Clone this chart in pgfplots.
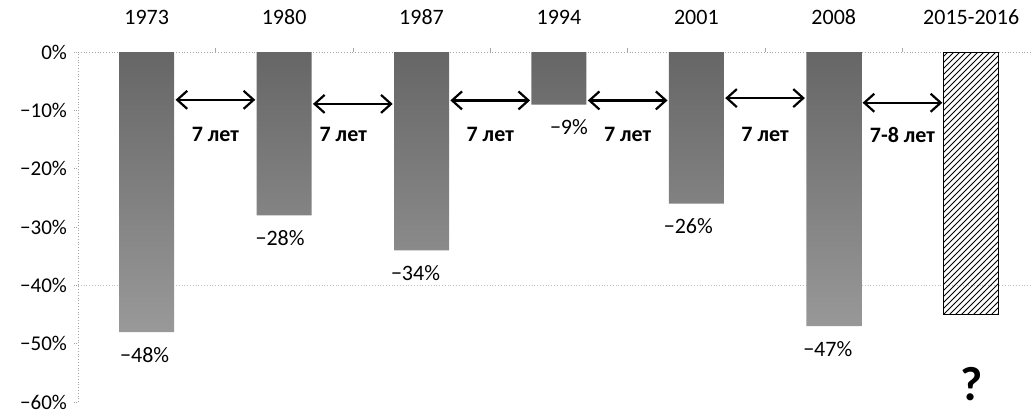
\documentclass[border=0pt]{standalone}
\usepackage{pgfplots}
\pgfplotsset{compat=1.18}
\usepackage{pgfplotstable}
\usepackage{fontspec}
\setmainfont{Carlito}
\usetikzlibrary{arrows.meta,patterns}
\tikzset{
  arr/.style={line width=1.1pt, {Straight Barb[length=5pt,width=9pt]}-{Straight Barb[length=5pt,width=9pt]}},
  lbl/.style={font=\fontsize{11}{13}\selectfont\bfseries},
}

\pgfplotstableread{
x y lab dx
0 -48 48 -1
1 -28 28 -2
2 -34 34 -3
3 -9 9 5
4 -26 26 -4
5 -47 47 -3
}\bars
\pgfplotstableread{
x y
6 -45
}\future

\begin{document}
\begin{tikzpicture}
\useasboundingbox (-39pt,-5pt) rectangle (477.5pt,201pt);
\begin{axis}[
  at={(0,0)}, anchor=south west,
  scale only axis, width=477.5pt, height=175pt,
  xmin=-0.5, xmax=6.45, ymin=-60, ymax=0,
  axis x line*=top, axis y line*=left,
  axis line style={-, draw=gray!70, densely dotted},
  xtick={0,1,2,3,4,5,6},
  xticklabels={1973,1980,1987,1994,2001,2008,2015-2016},
  xtick style={draw=none},
  minor xtick={0.5,1.5,2.5,3.5,4.5,5.5},
  minor tick length=2pt,
  minor x tick style={draw=gray!70},
  xticklabel style={font=\fontsize{11}{13}\selectfont, yshift=8pt},
  ytick={0,-10,-20,-30,-40,-50,-60},
  yticklabels={0\%,−10\%,−20\%,−30\%,−40\%,−50\%,−60\%},
  yticklabel style={font=\fontsize{10.5}{12}\selectfont},
  ytick style={draw=gray!70, densely dotted},
  tick align=outside, major tick length=2pt,
  extra y ticks={-40}, extra y tick labels={},
  extra y tick style={grid=major, major grid style={densely dotted, gray!50}, tick style={draw=none}},
  ybar, bar width=0.4, bar shift=0pt,
  clip=false,
]
\addplot[draw=none, top color=black!60, bottom color=black!40,
  point meta=explicit symbolic,
  visualization depends on={\thisrow{dx} \as \dx},
  nodes near coords={−\pgfplotspointmeta\%},
  every node near coord/.append style={font=\fontsize{11}{13}\selectfont, anchor=north, yshift=-4pt, xshift=\dx pt, black},
] table[x=x, y=y, meta=lab] {\bars};
\addplot[draw=black, line width=0.5pt, fill=white, pattern=north east lines] table[x=x,y=y] {\future};

\draw[arr] (axis cs:0.21,-8.2) -- (axis cs:0.79,-8.2);
\draw[arr] (axis cs:1.21,-8.9) -- (axis cs:1.79,-8.9);
\draw[arr] (axis cs:2.21,-8.3) -- (axis cs:2.79,-8.3);
\draw[arr] (axis cs:3.21,-8.3) -- (axis cs:3.79,-8.3);
\draw[arr] (axis cs:4.21,-7.9) -- (axis cs:4.79,-7.9);
\draw[arr] (axis cs:5.21,-8.7) -- (axis cs:5.79,-8.7);
\node[lbl] at (axis cs:0.5,-14.2) {7 лет};
\node[lbl] at (axis cs:1.43,-14.2) {7 лет};
\node[lbl] at (axis cs:2.5,-14.2) {7 лет};
\node[lbl] at (axis cs:3.5,-14.2) {7 лет};
\node[lbl] at (axis cs:4.5,-14.2) {7 лет};
\node[lbl] at (axis cs:5.5,-14.2) {7-8 лет};
\node[font=\fontsize{24}{26}\selectfont\bfseries] at (axis cs:6,-57) {?};
\end{axis}
\end{tikzpicture}
\end{document}
